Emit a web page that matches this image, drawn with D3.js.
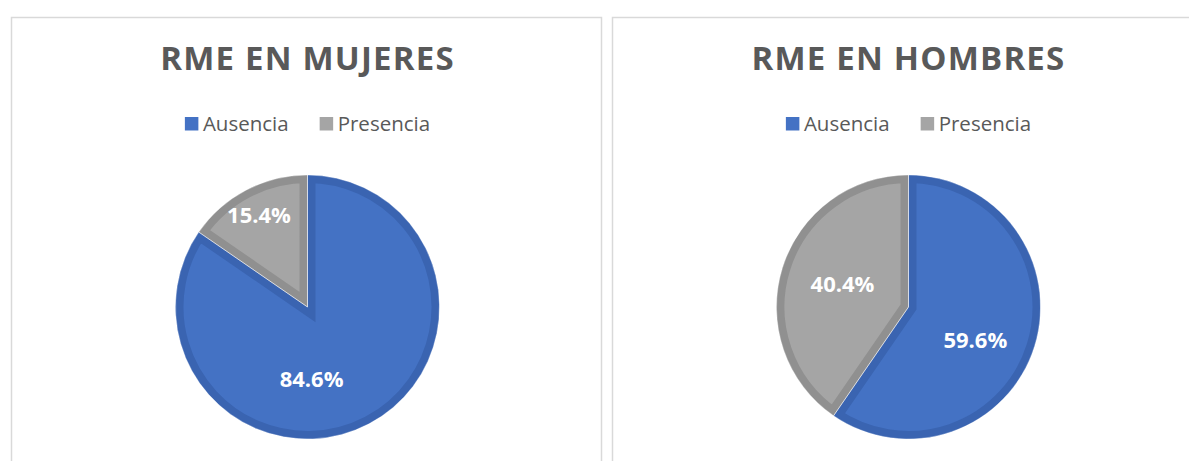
<!DOCTYPE html>
<html>
<head>
<meta charset="utf-8">
<script src="https://cdn.jsdelivr.net/npm/d3@7"></script>
<style>
  body { margin: 0; background: #fff; }
  svg { display: block; }
</style>
</head>
<body>
<svg id="chart" width="1189" height="461"></svg>
<script>
// data
var titles = ['RME EN MUJERES', 'RME EN HOMBRES'];
var categories = ['Ausencia', 'Presencia'];
var mujeres = [84.6, 15.4];
var hombres = [59.6, 40.4];
var series = [mujeres, hombres];

var colors = ['#4472C4', '#A5A5A5'];
var borders = ['#3A64B1', '#909090'];

// where Excel put the % labels: shift from the slice bisector (deg) and radius fraction
var label_shift = [[24.5, 0], [9, 2]];
var label_rad = [[0.55, 0.79], [0.565, 0.53]];

var svg = d3.select('#chart');
var panel_w = 591, panel_step = 601, panel_x0 = 11, panel_y0 = 17.5;
var radius = 132, pie_cy = 307, border_w = 8;

var pie = d3.pie().sort(null).value(function(d){ return d; });
var arc = d3.arc().innerRadius(0).outerRadius(radius);
var fmt = d3.format('.1f');

titles.forEach(function(title, i){
  var px = panel_x0 + i*panel_step;
  var cx = px + panel_w/2 + 1;
  var g = svg.append('g').attr('class', 'panel');

  // panel frame
  g.append('rect')
    .attr('x', px + 0.5)
    .attr('y', panel_y0)
    .attr('width', panel_w - 1)
    .attr('height', 500)
    .attr('fill', '#fff')
    .attr('stroke', '#D9D9D9')
    .attr('stroke-width', 1.5);

  // title
  g.append('text')
    .attr('x', cx)
    .attr('y', 70)
    .attr('text-anchor', 'middle')
    .attr('font-family', 'Open Sans, sans-serif')
    .attr('font-weight', 700)
    .attr('font-size', 33)
    .attr('letter-spacing', 1.2)
    .attr('fill', '#595959')
    .text(title);

  // legend, centred over the pie
  var leg = g.append('g');
  var lx = 0;
  categories.forEach(function(c, j){
    leg.append('rect')
      .attr('x', lx)
      .attr('y', 117)
      .attr('width', 13.5)
      .attr('height', 13.5)
      .attr('fill', colors[j]);
    var t = leg.append('text')
      .attr('x', lx + 18)
      .attr('y', 130.5)
      .attr('font-family', 'Open Sans, sans-serif')
      .attr('font-size', 20.5)
      .attr('fill', '#595959')
      .text(c);
    lx += 18 + t.node().getComputedTextLength() + 31;
  });
  var leg_w = lx - 31;
  leg.attr('transform', 'translate(' + (cx - leg_w/2) + ',0)');

  // pie
  var pg = g.append('g').attr('transform', 'translate(' + cx + ',' + pie_cy + ')');
  var slices = pie(series[i]);

  slices.forEach(function(d, j){
    var clip_id = 'clip_' + i + '_' + j;
    pg.append('clipPath')
      .attr('id', clip_id)
      .append('path')
      .attr('d', arc(d));

    // fill plus an inner border (stroke clipped to the slice)
    pg.append('path')
      .attr('d', arc(d))
      .attr('fill', colors[j])
      .attr('stroke', borders[j])
      .attr('stroke-width', 2*border_w)
      .attr('stroke-linejoin', 'miter')
      .attr('clip-path', 'url(#' + clip_id + ')');
  });

  // thin light seam between slices
  slices.forEach(function(d){
    pg.append('path')
      .attr('d', arc(d))
      .attr('fill', 'none')
      .attr('stroke', '#fff')
      .attr('stroke-opacity', 0.5)
      .attr('stroke-width', 0.8);
  });

  // value labels
  slices.forEach(function(d, j){
    var mid = (d.startAngle + d.endAngle)/2 + label_shift[i][j]*Math.PI/180;
    var r = label_rad[i][j]*radius;
    pg.append('text')
      .attr('x', r*Math.sin(mid))
      .attr('y', -r*Math.cos(mid))
      .attr('dy', '0.36em')
      .attr('text-anchor', 'middle')
      .attr('font-family', 'Open Sans, sans-serif')
      .attr('font-weight', 700)
      .attr('font-size', 22)
      .attr('fill', '#fff')
      .text(fmt(d.data) + '%');
  });
});
</script>
</body>
</html>
